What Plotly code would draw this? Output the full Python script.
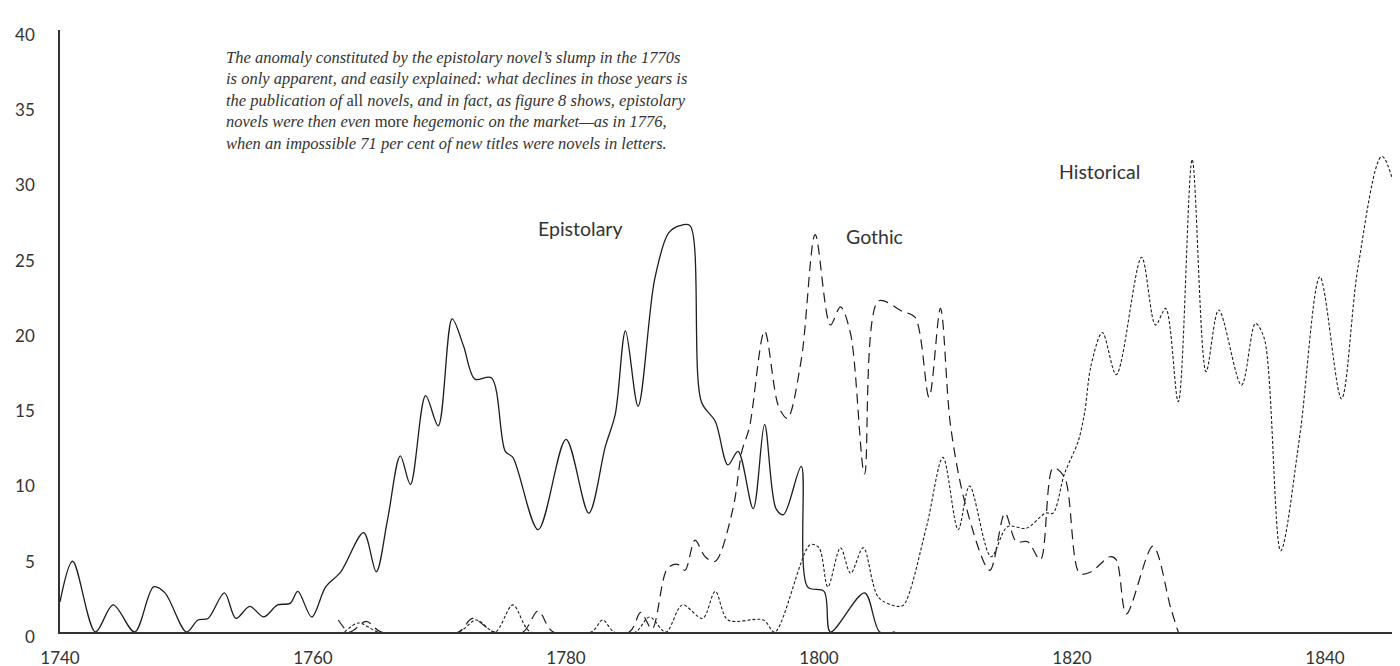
import plotly.graph_objects as go

# ---------------- data ----------------
epi_years = [1740.0, 1741.0, 1742.8, 1744.2, 1745.9, 1747.4, 1748.3, 1750.0, 1750.9, 1751.7,
             1753.0, 1753.9, 1755.0, 1756.1, 1757.2, 1758.2, 1758.8, 1759.9, 1761.0, 1762.2,
             1764.0, 1765.0, 1765.9, 1766.9, 1767.7, 1768.9, 1769.9, 1771.0, 1771.9, 1772.8,
             1774.1, 1775.2, 1775.8, 1777.8, 1780.0, 1781.8, 1783.1, 1783.9, 1784.7, 1785.7,
             1787.0, 1788.1, 1789.0, 1789.8, 1790.7, 1791.8, 1792.8, 1793.6, 1794.8, 1795.7,
             1796.6, 1797.2, 1798.6, 1799.1, 1800.4, 1800.9, 1803.6, 1804.8, 1806.0]
epi_vals = [2.0, 4.7, 0.0, 1.8, 0.0, 3.0, 2.6, 0.0, 0.8, 0.9,
            2.6, 0.9, 1.7, 1.0, 1.8, 1.9, 2.7, 1.0, 3.0, 4.0,
            6.6, 4.0, 7.5, 11.7, 9.8, 15.7, 13.7, 20.8, 19.0, 16.8,
            16.9, 12.0, 11.6, 6.8, 12.8, 7.9, 12.3, 14.5, 20.0, 15.0,
            23.4, 26.5, 27.0, 27.0, 15.3, 14.0, 11.1, 12.0, 8.2, 13.8,
            8.2, 7.8, 11.0, 3.0, 2.7, 0.0, 2.6, 0.0, 0.0]

goth_years = [1762.0, 1762.9, 1764.2, 1765.4, 1771.5, 1772.6, 1774.3, 1776.6, 1777.8, 1779.0,
              1785.0, 1785.9, 1786.8, 1788.0, 1788.8, 1789.4, 1790.2, 1791.0, 1791.8, 1793.2,
              1793.9, 1794.5, 1795.7, 1796.8, 1797.5, 1798.6, 1799.7, 1800.9, 1801.7, 1802.5,
              1803.6, 1804.7, 1806.6, 1807.6, 1808.7, 1809.6, 1810.4, 1811.6, 1813.5, 1814.7,
              1815.6, 1816.5, 1817.5, 1818.5, 1819.4, 1820.6, 1821.5, 1823.0, 1823.5, 1824.3,
              1826.4, 1827.8, 1828.4]
goth_vals = [0.8, 0.0, 0.7, 0.0, 0.0, 0.9, 0.0, 0.0, 1.4, 0.0,
             0.0, 1.3, 0.2, 4.2, 4.5, 4.1, 6.1, 5.0, 4.7, 8.2,
             12.0, 13.6, 20.0, 15.0, 14.2, 18.1, 26.4, 20.4, 21.6, 19.8,
             10.5, 22.0, 21.3, 20.9, 15.6, 21.5, 13.7, 8.4, 4.1, 7.9,
             6.0, 6.0, 4.8, 10.9, 10.3, 3.9, 4.0, 5.0, 4.8, 1.2,
             5.7, 1.6, 0.0]

hist_years = [1762.5, 1763.6, 1765.2, 1771.5, 1772.9, 1774.4, 1775.8, 1777.2, 1782.0, 1782.9,
              1783.8, 1785.5, 1786.6, 1787.9, 1789.2, 1790.8, 1791.8, 1792.8, 1795.6, 1796.5,
              1799.3, 1800.0, 1800.7, 1801.7, 1802.5, 1803.5, 1804.7, 1806.2, 1806.7, 1808.5,
              1809.8, 1811.0, 1811.9, 1813.6, 1814.9, 1816.4, 1817.9, 1818.5, 1819.4, 1820.5,
              1821.0, 1821.5, 1822.4, 1823.5, 1825.5, 1826.6, 1827.4, 1828.4, 1829.5, 1830.6,
              1831.6, 1833.4, 1834.5, 1835.2, 1836.5, 1838.0, 1839.6, 1841.3, 1842.6, 1844.5,
              1846.3, 1847.5]
hist_vals = [0.0, 0.6, 0.0, 0.0, 0.8, 0.0, 1.8, 0.0, 0.0, 0.8,
             0.0, 0.0, 1.0, 0.0, 1.8, 0.9, 2.7, 0.8, 0.8, 0.0,
             5.8, 5.6, 3.0, 5.6, 3.9, 5.6, 2.3, 1.7, 1.8, 7.0,
             11.6, 6.8, 9.7, 5.0, 7.0, 6.9, 7.9, 7.9, 10.5, 12.7,
             14.6, 17.7, 19.9, 17.1, 24.9, 20.4, 21.5, 15.3, 31.4, 17.3,
             21.4, 16.4, 20.5, 19.5, 5.4, 13.0, 23.6, 15.5, 24.2, 31.6,
             27.2, 24.0]

x_ticks = [1740, 1760, 1780, 1800, 1820, 1840]
y_ticks = [0, 5, 10, 15, 20, 25, 30, 35, 40]

series_labels = ["Epistolary", "Gothic", "Historical"]
label_pos = [(1781.1, 26.8), (1804.4, 26.3), (1822.2, 30.6)]

note_lines = [
    "<i>The anomaly constituted by the epistolary novel’s slump in the 1770s</i>",
    "<i>is only apparent, and easily explained: what declines in those years is</i>",
    "<i>the publication of </i>all<i> novels, and in fact, as figure 8 shows, epistolary</i>",
    "<i>novels were then even </i>more<i> hegemonic on the market—as in 1776,</i>",
    "<i>when an impossible 71 per cent of new titles were novels in letters.</i>",
]

# ---------------- figure ----------------
PLOT_L, PLOT_T, PLOT_B = 52, 22, 42
PLOT_W, PLOT_H = 1400 - PLOT_L, 666 - PLOT_T - PLOT_B

fig = go.Figure()
line_color = "#1e1e1e"
fig.add_trace(go.Scatter(x=epi_years, y=epi_vals, mode="lines",
                         line=dict(color=line_color, width=1.3, shape="spline", smoothing=0.9),
                         hoverinfo="skip", showlegend=False))
fig.add_trace(go.Scatter(x=goth_years, y=goth_vals, mode="lines",
                         line=dict(color=line_color, width=1.2, shape="spline", smoothing=0.9,
                                   dash="10px,6px"),
                         hoverinfo="skip", showlegend=False))
fig.add_trace(go.Scatter(x=hist_years, y=hist_vals, mode="lines",
                         line=dict(color=line_color, width=1.1, shape="spline", smoothing=0.9,
                                   dash="3px,2px"),
                         hoverinfo="skip", showlegend=False))

for name, (lx, ly) in zip(series_labels, label_pos):
    fig.add_annotation(x=lx, y=ly, text=name, showarrow=False, xanchor="center", yanchor="middle",
                       font=dict(family="Lato, Open Sans, sans-serif", size=19.5, color="#333333"))

fig.add_annotation(xref="paper", yref="paper", x=(216 - PLOT_L) / PLOT_W,
                   y=(PLOT_T + PLOT_H - 38) / PLOT_H,
                   xanchor="left", yanchor="top", align="left", showarrow=False,
                   text="<br>".join(note_lines),
                   font=dict(family="Liberation Serif, DejaVu Serif, serif", size=16.5, color="#333333"))

axis_font = dict(family="Lato, Open Sans, sans-serif", size=17, color="#333333")
fig.update_layout(
    width=1400, height=666,
    margin=dict(l=PLOT_L, r=0, t=PLOT_T, b=PLOT_B),
    paper_bgcolor="white", plot_bgcolor="white",
    xaxis=dict(range=[1740, 1740 + PLOT_W / 12.65], tickvals=x_ticks, ticktext=[str(v) for v in x_ticks],
               showgrid=False, zeroline=False, showline=True, linecolor="#333333", linewidth=1.5,
               ticks="", tickfont=axis_font, ticklabelstandoff=10),
    yaxis=dict(range=[0, 40], tickvals=y_ticks, ticktext=[str(v) for v in y_ticks],
               showgrid=False, zeroline=False, showline=True, linecolor="#333333", linewidth=1.5,
               ticks="", tickfont=axis_font, ticklabelstandoff=20, ticklabelshift=5),
)

fig.write_html("out.html")
